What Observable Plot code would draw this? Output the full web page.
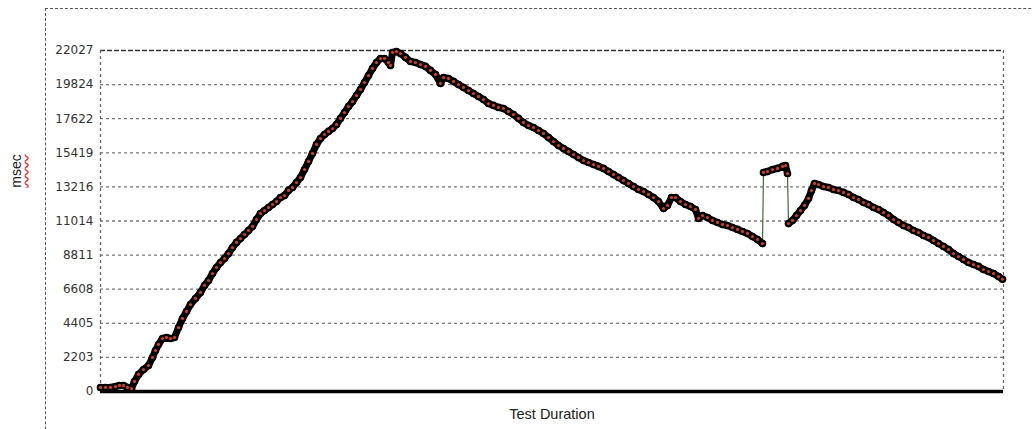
<!DOCTYPE html>
<html>
<head>
<meta charset="utf-8">
<script src="https://cdn.jsdelivr.net/npm/d3@7"></script>
<script src="https://cdn.jsdelivr.net/npm/@observablehq/plot@0.6"></script>
<style>
  html, body { margin: 0; padding: 0; background: #fff; }
  #wrap { position: relative; width: 1033px; height: 429px; overflow: hidden; }
  #outer { position: absolute; left: 45px; top: 8px; width: 1100px; height: 500px;
           border-left: 1px dashed #555; border-top: 1px dashed #555; pointer-events: none; }
  #ylab { position: absolute; left: -7px; top: 163px; width: 46px; text-align: center;
          transform: rotate(-90deg); font: 14px "Liberation Sans", Arial, sans-serif; color: #222;
          text-decoration: underline wavy #e33; text-underline-offset: 3px; }
</style>
</head>
<body>
<div id="wrap"></div>
<script>
// elapsed time (arbitrary units) and response time (msec)
const times = [0,5,10,15,19,23,27,31,34,38,43,48,52,55,58,62,66,70,74,78,82,86,90,95,100,104,108,112,116,120,124,128,132,136,140,144,148,152,156,160,164,168,172,176,180,184,188,192,196,200,204,208,212,216,220,224,228,232,236,240,244,248,252,256,260,264,268,272,276,280,284,288,290,292,296,300,305,310,315,320,325,330,335,340,343,348,353,358,363,368,373,378,383,388,393,398,403,408,413,418,423,428,433,438,443,448,453,458,463,468,473,478,483,488,493,498,503,508,513,518,523,528,533,538,543,548,553,558,563,567,571,575,580,585,590,595,598,602,607,612,617,622,627,632,637,642,647,652,657,662,663,667,672,677,682,685,687,688,692,696,700,704,708,711,714,718,723,728,733,738,743,748,753,758,763,768,773,778,783,788,793,798,803,808,813,818,823,828,833,838,843,848,853,858,863,868,873,878,883,888,893,898,902];
const msec = [260,260,260,320,390,390,260,190,650,1100,1420,1680,2200,2650,3040,3420,3490,3420,3490,4130,4720,5170,5620,6010,6400,6850,7170,7620,8010,8330,8590,8910,9300,9630,9880,10140,10400,10660,11110,11500,11690,11890,12080,12270,12530,12660,12990,13180,13500,13820,14340,14860,15380,15960,16340,16600,16800,16990,17250,17640,18020,18410,18730,19120,19510,19960,20410,20870,21250,21510,21510,21250,21060,21900,21960,21830,21580,21320,21250,21120,21000,20740,20480,19900,20280,20220,20030,19830,19640,19440,19250,19060,18860,18600,18480,18350,18280,18090,17890,17640,17380,17180,17050,16860,16670,16410,16150,15890,15700,15500,15310,15120,14920,14790,14660,14540,14410,14210,14020,13820,13630,13440,13240,13050,12920,12730,12530,12270,11820,12020,12530,12530,12270,12080,11950,11760,11180,11370,11240,11050,10920,10790,10720,10590,10470,10340,10210,10010,9820,9560,14150,14210,14340,14410,14540,14600,14080,10850,11050,11370,11690,12020,12470,12980,13440,13370,13240,13180,13050,12980,12860,12730,12530,12400,12210,12080,11890,11760,11560,11370,11110,10920,10720,10590,10400,10270,10080,9950,9750,9560,9370,9170,8910,8720,8530,8330,8200,8080,7880,7750,7620,7430,7250];
// indices where the series jumps (drawn only as a thin connector)
const jumpStarts = [150, 157];
const yTicks = [0,2203,4405,6608,8811,11014,13216,15419,17622,19824,22027];
const yTickLabels = ["0","2203","4405","6608","8811","11014","13216","15419","17622","19824","22027"];
const xLabel = "Test Duration";
const yLabel = "msec";

const data = times.map((t, i) => ({t, v: msec[i], seg: jumpStarts.filter(j => i >= j).length}));
const xMax = 903;

const chart = Plot.plot({
  width: 1033,
  height: 429,
  marginLeft: 100,
  marginRight: 30,
  marginTop: 50,
  marginBottom: 38,
  style: {background: "transparent", fontFamily: "'DejaVu Sans', Verdana, sans-serif", fontSize: "12px", color: "#333"},
  x: {domain: [0, xMax], axis: null},
  y: {domain: [0, yTicks[yTicks.length - 1]], axis: null},
  marks: [
    Plot.ruleY(yTicks.slice(1, -1), {stroke: "#777", strokeWidth: 1.3, strokeDasharray: "3,3"}),
    Plot.ruleY([yTicks[yTicks.length - 1]], {stroke: "#333", strokeWidth: 1.3, strokeDasharray: "5,2"}),
    Plot.ruleX([0, xMax], {stroke: "#666", strokeWidth: 1.3, strokeDasharray: "3,3"}),
    Plot.axisY({ticks: yTicks, tickSize: 0, tickPadding: 7, label: null,
                tickFormat: (d) => yTickLabels[yTicks.indexOf(d)]}),
    Plot.ruleY([0], {stroke: "#000", strokeWidth: 3.5}),
    Plot.line(data, {x: "t", y: "v", stroke: "#3d6b3d", strokeWidth: 1.2}),
    Plot.line(data, {x: "t", y: "v", z: "seg", stroke: "#000", strokeWidth: 7, strokeLinejoin: "round", strokeLinecap: "round"}),
    Plot.dot(data, {x: "t", y: "v", r: 3.8, fill: "#000", stroke: "none"}),
    Plot.dot(data, {x: "t", y: "v", r: 1.6, fill: "#d2401e", stroke: "none"}),
    Plot.text([xLabel], {frameAnchor: "bottom", dy: 27, fontSize: 14.5, fill: "#222",
                         fontFamily: "'Liberation Sans', Arial, sans-serif"})
  ]
});

const wrap = document.getElementById("wrap");
wrap.appendChild(chart);
const outer = document.createElement("div");
outer.id = "outer";
wrap.appendChild(outer);
const yl = document.createElement("div");
yl.id = "ylab";
yl.textContent = yLabel;
wrap.appendChild(yl);
</script>
</body>
</html>
